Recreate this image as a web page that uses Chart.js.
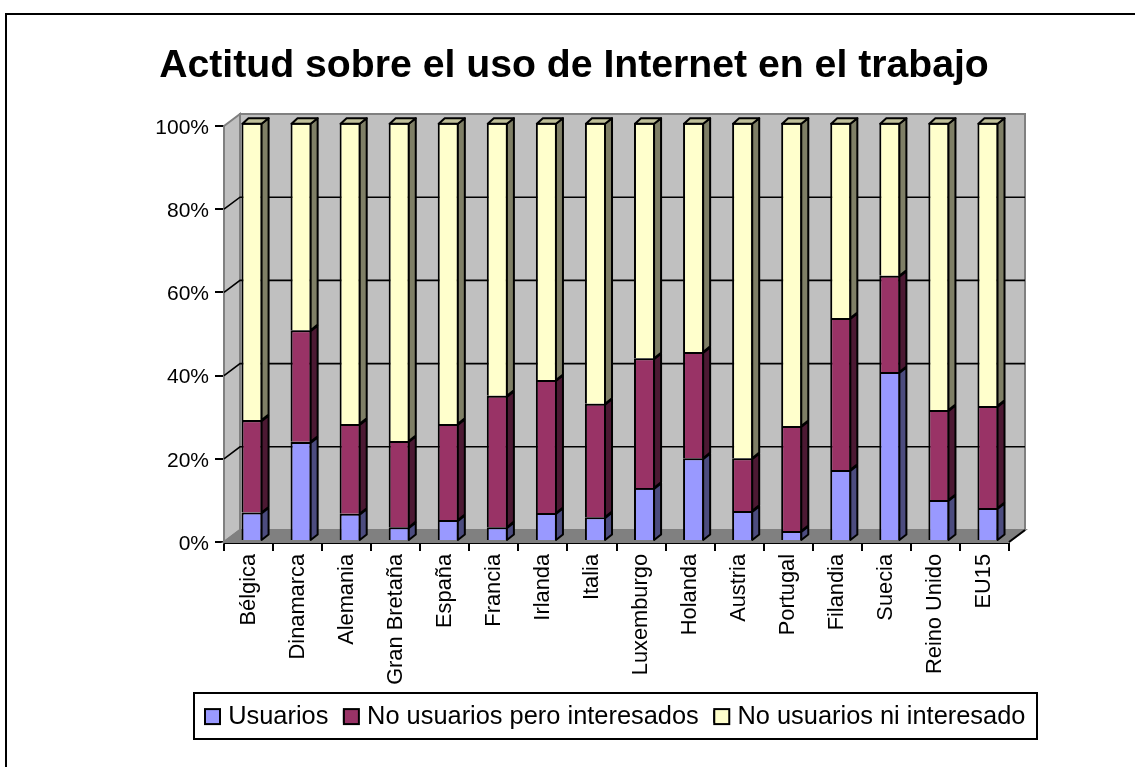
<!DOCTYPE html>
<html><head><meta charset="utf-8">
<style>html,body{margin:0;padding:0;background:#fff}#w{width:1135px;height:767px}</style>
<script src="https://cdn.jsdelivr.net/npm/chart.js@4"></script></head>
<body><div id="w"><canvas id="c"></canvas></div>
<script>
const categories=["Bélgica","Dinamarca","Alemania","Gran Bretaña","España","Francia","Irlanda","Italia","Luxemburgo","Holanda","Austria","Portugal","Filandia","Suecia","Reino Unido","EU15"];
const usuarios=[6.8,23.7,6.5,3.3,5,3.3,6.7,5.7,12.7,19.8,7.2,2.4,17,40.4,9.8,7.9];
const interesados=[22.1,26.7,21.5,20.6,23,31.4,31.8,27.1,31,25.4,12.6,25.1,36.3,23,21.5,24.4];
const ningunos=[71.1,49.6,72,76.1,72,65.3,61.5,67.2,56.3,54.8,80.2,72.5,46.7,36.6,68.7,67.7];
const yTicks=[0,20,40,60,80,100];
const FONT='"Liberation Sans"';
const DX=16,DY=12,BX=3.5,SX=6,SY=5.5,BA=1.00553,BF=-4;
const sides=["#4C4C7F","#4C1933","#7F7F66"],tops=["#7F7FBF","#7F2A55","#BFBF99"];
const depth={id:'depth',
 afterLayout(ch){const t=ch.titleBlock;t.left=13;t.right=1135;const l=ch.legend;
   l.left=189.5;l.right=1120;l.top=688.4;l.bottom=739;},
 beforeDraw(ch){const c=ch.ctx;c.save();c.strokeStyle='#000';c.lineWidth=2;c.strokeRect(6,14,1300,1000);
   c.strokeRect(194,693,843,46);c.restore();},
 beforeDatasetsDraw(ch){const c=ch.ctx,a=ch.chartArea,y=ch.scales.y;c.save();
   const L=a.left,R=a.right,T=a.top,B=a.bottom;
   const poly=(p,f,s,w)=>{c.beginPath();p.forEach((q,i)=>i?c.lineTo(q[0],q[1]):c.moveTo(q[0],q[1]));c.closePath();if(f){c.fillStyle=f;c.fill();}if(s){c.strokeStyle=s;c.lineWidth=w||2;c.stroke();}};
   poly([[L+DX,T-DY],[R+DX,T-DY],[R+DX,B-DY],[L+DX,B-DY]],'#C0C0C0','#808080',2);
   poly([[L,T],[L+DX,T-DY],[L+DX,B-DY],[L,B]],'#C0C0C0','#808080',2);
   poly([[L,B],[L+DX,B-DY],[R+DX,B-DY],[R,B]],'#808080','#808080',2);
   yTicks.forEach(v=>{if(v==0||v==100)return;const p=y.getPixelForValue(v);c.strokeStyle='#000';c.lineWidth=1.6;c.beginPath();c.moveTo(L,p);c.lineTo(L+DX,p-DY);c.lineTo(R+DX,p-DY);c.stroke();});
   c.strokeStyle='#000';c.lineWidth=2;c.beginPath();c.moveTo(R,B);c.lineTo(R+DX,B-DY);c.stroke();
   c.restore();},
 beforeDatasetDraw(ch){ch.ctx.save();ch.ctx.transform(1,0,0,BA,BX,BF);},
 afterDatasetDraw(ch,args){const c=ch.ctx,meta=args.meta,i=args.index;
   meta.data.forEach(b=>{const w=b.width/2,x2=b.x+w,top=b.y,bot=b.base;
     c.strokeStyle='#000';c.lineWidth=2;c.lineJoin='round';
     c.fillStyle=sides[i];c.beginPath();c.moveTo(x2-1,top+1);c.lineTo(x2+SX,top+1-SY);c.lineTo(x2+SX,bot-SY);c.lineTo(x2-1,bot);c.closePath();c.fill();c.stroke();
     if(i==2){c.fillStyle=tops[i];c.beginPath();c.moveTo(b.x-w+1,top+1);c.lineTo(b.x-w+1+SX,top+1-SY);c.lineTo(x2+SX,top+1-SY);c.lineTo(x2-1,top+1);c.closePath();c.fill();c.stroke();}
   });
   c.restore();},
 afterDraw(ch){const c=ch.ctx,l=ch.legend;c.save();c.strokeStyle='#000';c.lineWidth=2;
   l.legendHitBoxes.forEach((h,i)=>{const s=15,cy=h.top+h.height/2;c.fillStyle=ch.data.datasets[i].backgroundColor;c.fillRect(h.left,cy-s/2,s,s);c.strokeRect(h.left,cy-s/2,s,s);});
   c.restore();}
};
new Chart(document.getElementById('c'),{type:'bar',
 data:{labels:categories,datasets:[
  {label:'Usuarios',data:usuarios,backgroundColor:'#9999FF'},
  {label:'No usuarios pero interesados',data:interesados,backgroundColor:'#993366'},
  {label:'No usuarios ni interesado',data:ningunos,backgroundColor:'#FFFFCC'}]},
 plugins:[depth],
 options:{responsive:true,maintainAspectRatio:false,animation:false,
  layout:{padding:{left:0,right:126,top:0,bottom:0}},
  datasets:{bar:{borderColor:'#000',borderWidth:2,barPercentage:0.43,categoryPercentage:1,clip:false}},
  plugins:{
   title:{display:true,text:'Actitud sobre el uso de Internet en el trabajo',color:'#000',font:{family:FONT,size:39.2,weight:'bold',lineHeight:1.2},padding:{top:42.6,bottom:36.4}},
   legend:{display:true,position:'bottom',align:'start',labels:{color:'#000',font:{family:FONT,size:25.4},boxWidth:10.5,boxHeight:10.5,padding:15.5}},
   tooltip:{enabled:false}},
  scales:{
   x:{stacked:true,offset:true,afterFit(s){s.height=767-542-s.chart.legend.height;},
    border:{color:'#000',width:3},grid:{drawOnChartArea:false,color:'#000',lineWidth:2,tickLength:9,tickWidth:2,tickColor:'#000'},
    ticks:{autoSkip:false,maxRotation:90,minRotation:90,padding:3,color:'#000',font:{family:FONT,size:21.8}}},
   y:{stacked:true,min:0,max:100,afterFit(s){s.width=224;},
    afterBuildTicks(s){s.ticks=yTicks.map(v=>({value:v}));},
    border:{color:'#000',width:2},grid:{drawOnChartArea:false,color:'#000',lineWidth:2,tickLength:9,tickWidth:2,tickColor:'#000'},
    ticks:{padding:6,labelOffset:2,color:'#000',font:{family:FONT,size:21},callback:v=>v+'%'}}
  }}});
</script></body></html>
